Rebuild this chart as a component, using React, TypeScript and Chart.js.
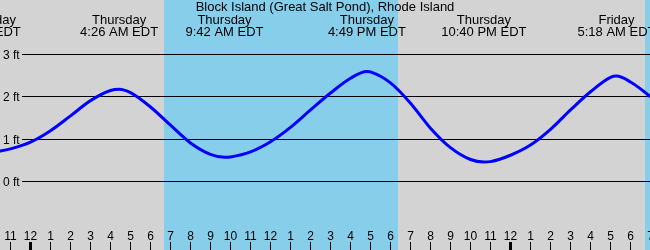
import React, { useEffect, useRef } from "react";
import { Chart, registerables } from "chart.js";

Chart.register(...registerables);

const TITLE = "Block Island (Great Salt Pond), Rhode Island";

// hours since Thursday 00:00 (local time, EDT)
const tideHours = [
  -2.44, -1.5, -1, 0, 1, 2, 3, 4, 4.43, 5, 6, 7, 8, 9, 9.7, 10, 11, 12, 13, 14,
  15, 16, 16.82, 17, 18, 19, 20, 21, 22, 22.67, 23, 24, 25, 26, 27, 28, 29,
  29.3, 30, 31, 31.5,
];
// predicted height, ft
const tideFeet = [
  0.66, 0.72, 0.77, 0.93, 1.2, 1.55, 1.91, 2.15, 2.18, 2.1, 1.76, 1.33, 0.91,
  0.64, 0.57, 0.58, 0.7, 0.94, 1.28, 1.69, 2.09, 2.44, 2.6, 2.59, 2.33, 1.85,
  1.26, 0.8, 0.52, 0.46, 0.47, 0.62, 0.86, 1.23, 1.69, 2.12, 2.46, 2.49, 2.35,
  2.0, 1.78,
];

const eventHours = [-2.44, 4.43, 9.7, 16.82, 22.67, 29.3];
const eventDays = ["Wednesday", "Thursday", "Thursday", "Thursday", "Thursday", "Friday"];
const eventTimes = ["9:34 PM EDT", "4:26 AM EDT", "9:42 AM EDT", "4:49 PM EDT", "10:40 PM EDT", "5:18 AM EDT"];

const sunriseHours = [6.68, 30.73];
const sunsetHours = [18.38, 42.4];

const yTicks = [0, 1, 2, 3];
const yTickLabels = ["0 ft", "1 ft", "2 ft", "3 ft"];

const hourTicks = [
  -1, 0, 1, 2, 3, 4, 5, 6, 7, 8, 9, 10, 11, 12, 13, 14, 15, 16, 17, 18, 19, 20,
  21, 22, 23, 24, 25, 26, 27, 28, 29, 30, 31,
];
const hourLabels = [
  "11", "12", "1", "2", "3", "4", "5", "6", "7", "8", "9", "10", "11", "12",
  "1", "2", "3", "4", "5", "6", "7", "8", "9", "10", "11", "12", "1", "2", "3",
  "4", "5", "6", "7",
];
const midnightHours = [0, 24];

const FONT = "'Liberation Sans', Arial, sans-serif";

const backdrop = {
  id: "backdrop",
  beforeDatasetsDraw(chart: any) {
    const { ctx, chartArea, scales } = chart;
    const { left, right, top, bottom } = chartArea;
    const x = scales.x;
    const y = scales.y;
    ctx.save();
    ctx.fillStyle = "#d3d3d3";
    ctx.fillRect(left, top, right - left, bottom - top);
    ctx.fillStyle = "#87ceeb";
    sunriseHours.forEach((s, i) => {
      const x0 = Math.round(x.getPixelForValue(s));
      const x1 = Math.min(Math.round(x.getPixelForValue(sunsetHours[i])), right);
      ctx.fillRect(x0, top, x1 - x0, bottom - top);
    });
    ctx.fillStyle = "#000";
    yTicks.forEach((v) => {
      const py = Math.floor(y.getPixelForValue(v));
      ctx.fillRect(22, py, right - 22, 1);
    });
    ctx.font = "12px " + FONT;
    ctx.textAlign = "left";
    ctx.textBaseline = "alphabetic";
    yTicks.forEach((v, i) => {
      ctx.fillText(yTickLabels[i], 3, y.getPixelForValue(v) + 4.5);
    });
    ctx.textAlign = "center";
    hourTicks.forEach((h, i) => {
      const px = Math.floor(x.getPixelForValue(h));
      const bold = midnightHours.includes(h);
      ctx.fillRect(bold ? px - 1 : px, 242, bold ? 3 : 1, 8);
      ctx.fillText(hourLabels[i], px + 0.5, 240);
    });
    ctx.font = "13px " + FONT;
    ctx.fillText(TITLE, (left + right) / 2, 11);
    eventHours.forEach((h, i) => {
      const px = x.getPixelForValue(h);
      ctx.fillText(eventDays[i], px, 24);
      ctx.fillText(eventTimes[i], px, 36);
    });
    ctx.restore();
  },
};

export default function App() {
  const ref = useRef<HTMLCanvasElement | null>(null);
  useEffect(() => {
    if (!ref.current) return;
    const chart = new Chart(ref.current, {
      type: "line",
      data: {
        datasets: [
          {
            data: tideHours.map((h, i) => ({ x: h, y: tideFeet[i] })),
            borderColor: "#0000ff",
            borderWidth: 3,
            pointRadius: 0,
            cubicInterpolationMode: "monotone",
            fill: false,
          },
        ],
      },
      options: {
        responsive: false,
        animation: false,
        events: [],
        layout: { padding: 0 },
        plugins: { legend: { display: false }, tooltip: { enabled: false } },
        scales: {
          x: { type: "linear", display: false, min: -1.525, max: 30.975 },
          y: { type: "linear", display: false, min: -1.618, max: 4.287 },
        },
      },
      plugins: [backdrop],
    } as any);
    return () => chart.destroy();
  }, []);
  return (
    <div style={{ position: "fixed", left: 0, top: 0, width: 650, height: 250 }}>
      <canvas ref={ref} width={650} height={250} style={{ display: "block" }} />
    </div>
  );
}
